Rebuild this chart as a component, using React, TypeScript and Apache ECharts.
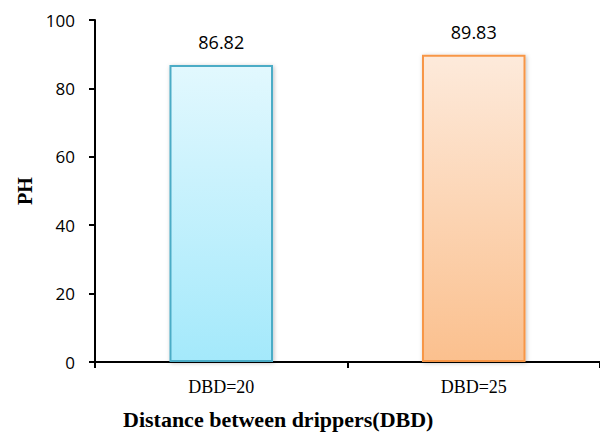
import React, { useEffect, useRef } from "react";
import * as echarts from "echarts";

const categories = ["DBD=20", "DBD=25"];
const values = [86.82, 89.83];
const yTicks = { min: 0, max: 100, interval: 20 };
const barColors = [
  { top: "#e2f8fe", bottom: "#a4e9fb", border: "#4bacc6" },
  { top: "#fdeadb", bottom: "#fbc08e", border: "#f79646" },
];

export default function App() {
  const ref = useRef<HTMLDivElement>(null);
  useEffect(() => {
    const chart = echarts.init(ref.current!, null, { renderer: "svg" });
    chart.setOption({
      animation: false,
      grid: { left: 95, top: 20, right: 0, bottom: 79, containLabel: false },
      xAxis: {
        type: "category",
        data: categories,
        axisLine: { lineStyle: { color: "#000", width: 2 } },
        axisTick: { show: true, length: 6, lineStyle: { color: "#000", width: 2 } },
        axisLabel: { color: "#000", fontFamily: "Liberation Serif", fontSize: 18, margin: 16 },
      },
      yAxis: {
        type: "value",
        min: yTicks.min,
        max: yTicks.max,
        interval: yTicks.interval,
        name: "PH",
        nameLocation: "middle",
        nameGap: 60,
        nameTextStyle: { color: "#000", fontFamily: "Liberation Serif", fontWeight: "bold", fontSize: 20 },
        axisLine: { show: true, lineStyle: { color: "#000", width: 2 } },
        axisTick: { show: true, length: 6, lineStyle: { color: "#000", width: 2 } },
        splitLine: { show: false },
        axisLabel: { color: "#000", fontFamily: "Open Sans", fontSize: 17, margin: 20 },
      },
      graphic: [
        {
          type: "text",
          left: 123,
          top: 408,
          style: {
            text: "Distance between drippers(DBD)",
            fill: "#000",
            font: "bold 22px 'Liberation Serif'",
          },
        },
      ],
      series: [
        {
          type: "bar",
          barWidth: "41%",
          data: values.map((v, i) => ({
            value: v,
            itemStyle: {
              color: new echarts.graphic.LinearGradient(0, 0, 0, 1, [
                { offset: 0, color: barColors[i].top },
                { offset: 1, color: barColors[i].bottom },
              ]),
              borderColor: barColors[i].border,
              borderWidth: 2,
              shadowColor: "rgba(0,0,0,0.25)",
              shadowBlur: 4,
              shadowOffsetX: 1,
              shadowOffsetY: 1,
            },
          })),
          label: {
            show: true,
            position: "top",
            distance: 14,
            color: "#000",
            fontFamily: "Open Sans",
            fontSize: 18,
            formatter: (p: any) => p.value.toFixed(2),
          },
        },
      ],
    });
    return () => chart.dispose();
  }, []);
  return <div ref={ref} style={{ width: 600, height: 441, position: "absolute", left: 0, top: 0 }} />;
}
